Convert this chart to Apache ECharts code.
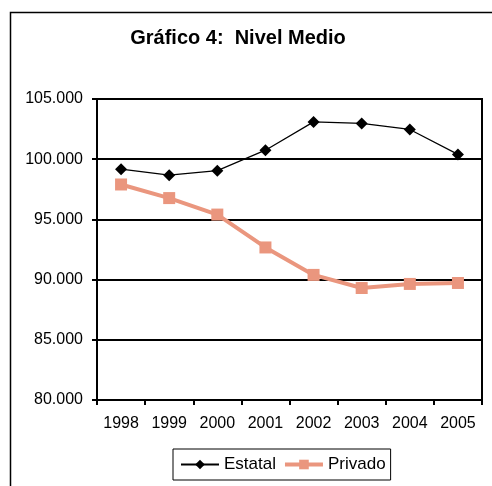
<!DOCTYPE html>
<html>
<head>
<meta charset="utf-8">
<script src="https://cdn.jsdelivr.net/npm/echarts@6/dist/echarts.min.js"></script>
<style>
  html, body { margin: 0; padding: 0; background: #fff; }
  #chart { width: 492px; height: 486px; }
</style>
</head>
<body>
<div id="chart"></div>
<script>
const years = ['1998', '1999', '2000', '2001', '2002', '2003', '2004', '2005']
const estatal = [99.17, 98.67, 99.05, 100.75, 103.1, 102.97, 102.47, 100.4]
const privado = [97.9, 96.77, 95.4, 92.67, 90.39, 89.3, 89.64, 89.72]

const chart = echarts.init(document.getElementById('chart'))

// formato 105.000 con punto de miles
const fmt = v => v.toFixed(3)

chart.setOption({
  animation: false,
  textStyle: { fontFamily: 'Liberation Sans, Arial, sans-serif' },
  title: {
    text: 'Gráfico 4:  Nivel Medio',
    left: 233,
    textAlign: 'center',
    top: 23,
    textStyle: { fontSize: 20, fontWeight: 'bold', color: '#000', fontFamily: 'Liberation Sans, Arial, sans-serif' }
  },
  graphic: [{
    type: 'rect',
    left: 8, top: 10,
    shape: { width: 520, height: 520 },
    style: { fill: 'none', stroke: '#000', lineWidth: 1.5 },
    z: -1
  }],
  grid: {
    left: 97, top: 99, right: 10, bottom: 86,
    show: true, borderColor: '#000', borderWidth: 2
  },
  legend: {
    left: 173,
    top: 449,
    itemWidth: 38,
    itemHeight: 12,
    itemGap: 7,
    padding: [7, 5, 7, 7],
    borderColor: '#000',
    borderWidth: 1,
    textStyle: { fontSize: 17, color: '#000' },
    data: [
      { name: 'Estatal' },
      { name: 'Privado', lineStyle: { width: 4 } }
    ]
  },
  xAxis: {
    type: 'category',
    data: years,
    boundaryGap: true,
    axisLine: { lineStyle: { color: '#000', width: 2 } },
    axisTick: { show: true, length: 5, lineStyle: { color: '#000', width: 2 } },
    axisLabel: { color: '#000', fontSize: 16, margin: 16 }
  },
  yAxis: {
    type: 'value',
    min: 80, max: 105, interval: 5,
    axisLine: { show: true, lineStyle: { color: '#000', width: 2 } },
    axisTick: { show: true, length: 5, lineStyle: { color: '#000', width: 2 } },
    axisLabel: { color: '#000', fontSize: 16, margin: 14, formatter: fmt },
    splitLine: { lineStyle: { color: '#000', width: 2 } }
  },
  series: [
    {
      name: 'Estatal',
      type: 'line',
      data: estatal,
      symbol: 'diamond',
      symbolSize: 12,
      lineStyle: { color: '#000', width: 1.2 },
      itemStyle: { color: '#000' }
    },
    {
      name: 'Privado',
      type: 'line',
      data: privado,
      symbol: 'rect',
      symbolSize: 12,
      lineStyle: { color: '#EA967E', width: 4 },
      itemStyle: { color: '#EA967E' }
    }
  ]
})
</script>
</body>
</html>
